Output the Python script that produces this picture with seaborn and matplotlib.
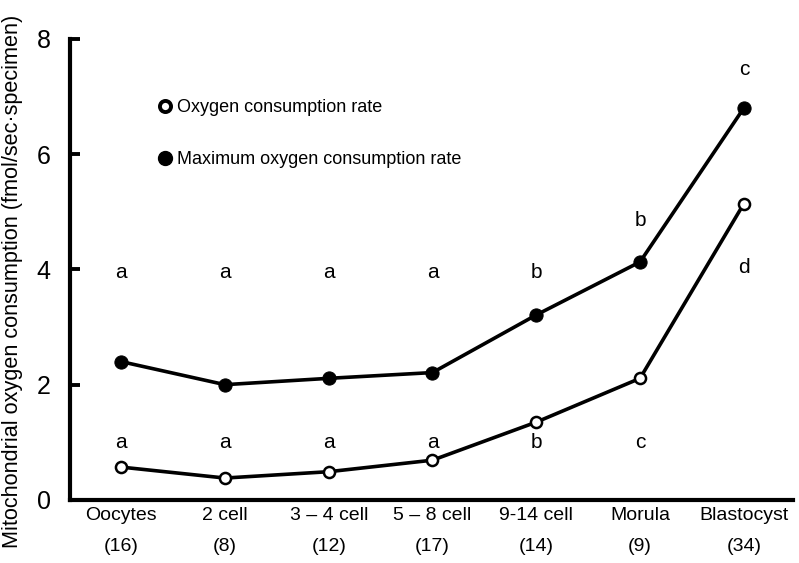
import matplotlib
matplotlib.use("Agg")
import matplotlib.pyplot as plt
from matplotlib.lines import Line2D
import pandas as pd
import seaborn as sns

# ── Data ──────────────────────────────────────────────────────────────────────
stages      = ["Oocytes", "2 cell", "3 – 4 cell", "5 – 8 cell", "9-14 cell", "Morula", "Blastocyst"]
n_specimens = [16, 8, 12, 17, 14, 9, 34]
ocr         = [0.57, 0.38, 0.49, 0.69, 1.35, 2.11, 5.14]   # oxygen consumption rate
ocr_max     = [2.40, 2.00, 2.11, 2.21, 3.21, 4.13, 6.80]   # maximum oxygen consumption rate
letters_max = ["a", "a", "a", "a", "b", "b", "c"]
letters_ocr = ["a", "a", "a", "a", "b", "c", "d"]
letter_y_max = [3.95, 3.95, 3.95, 3.95, 3.95, 4.85, 7.47]
letter_y_ocr = [0.99, 0.99, 0.99, 0.99, 0.99, 0.99, 4.04]

tick_labels = [f"{s}\n({n})" for s, n in zip(stages, n_specimens)]
df = pd.DataFrame({"pos": range(len(stages)), "ocr": ocr, "ocr_max": ocr_max})

# ── Plot ──────────────────────────────────────────────────────────────────────
sns.set_style("ticks")
plt.rcParams["font.family"] = ["Liberation Sans", "DejaVu Sans"]
plt.rcParams["text.color"] = "black"
plt.rcParams["axes.labelcolor"] = "black"
plt.rcParams["xtick.color"] = "black"
plt.rcParams["ytick.color"] = "black"
plt.rcParams["axes.edgecolor"] = "black"

fig = plt.figure(figsize=(7.99, 5.63), dpi=100)
ax = fig.add_axes([0.088, 0.112, 0.904, 0.819])

sns.lineplot(data=df, x="pos", y="ocr_max", ax=ax, color="black", linewidth=2.6,
             marker="o", markersize=9.5, markerfacecolor="black",
             markeredgecolor="black", zorder=3)
sns.lineplot(data=df, x="pos", y="ocr", ax=ax, color="black", linewidth=2.6,
             marker="o", markersize=8, markerfacecolor="white",
             markeredgecolor="black", markeredgewidth=1.8, zorder=3)

for i, (lm, lo) in enumerate(zip(letters_max, letters_ocr)):
    ax.text(i, letter_y_max[i], lm, ha="center", va="center", fontsize=15)
    ax.text(i, letter_y_ocr[i], lo, ha="center", va="center", fontsize=15)

ax.set_xlim(-0.49, 6.47)
ax.set_ylim(0, 8)
ax.set_yticks([0, 2, 4, 6, 8])
ax.set_xticks(range(len(stages)))
ax.set_xticklabels(tick_labels, fontsize=14, linespacing=2.05)
ax.tick_params(axis="x", length=0, pad=5)
ax.tick_params(axis="y", direction="in", length=7, width=2.8, labelsize=18, pad=14)
ax.set_xlabel("")
ax.set_ylabel("Mitochondrial oxygen consumption (fmol/sec·specimen)", fontsize=15.6)
ax.yaxis.set_label_coords(-0.066, 0.475)

for side in ["top", "right"]:
    ax.spines[side].set_visible(False)
for side in ["left", "bottom"]:
    ax.spines[side].set_linewidth(3)

handles = [
    Line2D([], [], linestyle="none", marker="o", markersize=8, markerfacecolor="white",
           markeredgecolor="black", markeredgewidth=2.8, label="Oxygen consumption rate"),
    Line2D([], [], linestyle="none", marker="o", markersize=10, markerfacecolor="black",
           markeredgecolor="black", label="Maximum oxygen consumption rate"),
]
ax.legend(handles=handles, loc="upper left", bbox_to_anchor=(0.1, 0.905), frameon=False,
          fontsize=13, labelspacing=1.95, handlelength=0.7, handletextpad=0.3)

fig.savefig("out.png", dpi=100)
